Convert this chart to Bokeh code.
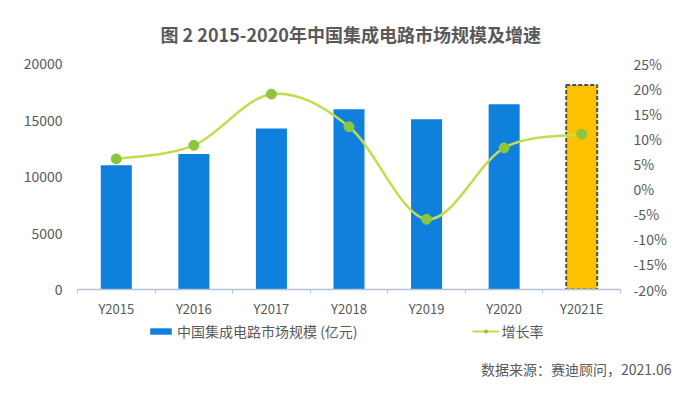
from bokeh.plotting import figure
from bokeh.layouts import column
from bokeh.models import (Range1d, LinearAxis, CategoricalAxis, FixedTicker, ColumnDataSource,
                          Label, Legend, LegendItem, PrintfTickFormatter, FactorRange)
from bokeh.embed import file_html
from bokeh.resources import INLINE

# ---- data ----
years = ["Y2015", "Y2016", "Y2017", "Y2018", "Y2019", "Y2020", "Y2021E"]
market = [11000, 11990, 14250, 15950, 15070, 16390, 18090]   # 亿元
growth = [6.0, 8.7, 18.9, 12.4, -6.0, 8.2, 10.9]              # %
left_ticks = [0, 5000, 10000, 15000, 20000]
right_ticks = [-20, -15, -10, -5, 0, 5, 10, 15, 20, 25]

title_text = "图 2  2015-2020年中国集成电路市场规模及增速"
bar_label = "中国集成电路市场规模 (亿元)"
line_label = "增长率"
source_text = "数据来源：赛迪顾问，2021.06"

FONT = "Noto Sans CJK SC"
TXT = "#595959"
BLUE = "#0F80DC"
GOLD = "#FFC000"
LINE = "#C2DC4E"
DOT = "#8CC63F"
AXIS = "#B4C4D6"


def strip(h):
    s = figure(width=700, height=h, x_range=Range1d(0, 700), y_range=Range1d(0, h),
               output_backend="svg", toolbar_location=None,
               x_axis_location=None, y_axis_location=None, title=None,
               min_border_left=0, min_border_right=0, min_border_top=0, min_border_bottom=0,
               background_fill_color="white", border_fill_color="white",
               outline_line_color=None, frame_align=False)
    s.grid.visible = False
    return s


# ---- title strip ----
t = strip(45)
t.add_layout(Label(x=160, y=12, x_units="screen", y_units="screen", text=title_text,
                   text_align="left", text_baseline="middle", text_font=FONT,
                   text_font_size="18px", text_font_style="bold", text_color=TXT))

# ---- main chart ----
p = figure(width=700, height=275, x_range=FactorRange(*years),
           y_range=Range1d(left_ticks[0], left_ticks[-1]),
           output_backend="svg", toolbar_location=None,
           x_axis_location=None, y_axis_location=None, title=None,
           min_border_left=77, min_border_right=80, min_border_top=18, min_border_bottom=29,
           background_fill_color="white", border_fill_color="white",
           outline_line_color=None, frame_align=False)
p.grid.visible = False
p.extra_y_ranges = {"pct": Range1d(right_ticks[0], right_ticks[-1])}

ly = LinearAxis(ticker=FixedTicker(ticks=left_ticks), axis_line_color=None,
                major_tick_line_color=None, minor_tick_line_color=None,
                major_tick_out=0, major_tick_in=0, major_label_standoff=15,
                major_label_text_font=FONT, major_label_text_font_size="14px",
                major_label_text_color=TXT)
p.add_layout(ly, "left")

ry = LinearAxis(y_range_name="pct", ticker=FixedTicker(ticks=right_ticks),
                formatter=PrintfTickFormatter(format="%d%%"), axis_line_color=None,
                major_tick_line_color=None, minor_tick_line_color=None,
                major_tick_out=0, major_tick_in=0, major_label_standoff=13,
                major_label_text_font=FONT, major_label_text_font_size="14px",
                major_label_text_color=TXT)
p.add_layout(ry, "right")

tx = LinearAxis(ticker=FixedTicker(ticks=list(range(len(years) + 1))),
                axis_line_color=AXIS, axis_line_width=1.5, major_tick_line_color=AXIS,
                minor_tick_line_color=None, major_tick_in=0, major_tick_out=4,
                major_label_text_font_size="0px", major_label_standoff=0)
p.add_layout(tx, "below")
cx = CategoricalAxis(axis_line_color=None, major_tick_line_color=None,
                     major_tick_in=0, major_tick_out=0, major_label_standoff=5,
                     major_label_text_font=FONT, major_label_text_font_size="13px",
                     major_label_text_color=TXT)
p.add_layout(cx, "below")

p.vbar(x=years[:-1], top=market[:-1], width=0.4, fill_color=BLUE, line_color=None)
p.vbar(x=years[-1:], top=market[-1:], width=0.4, fill_color=GOLD,
       line_color="#44546A", line_dash="4 2", line_width=2)

# smoothed growth curve (Excel-style bezier through the points)
xs = [i + 0.5 for i in range(len(years))]
n = len(xs)
bz = dict(x0=[], y0=[], x1=[], y1=[], cx0=[], cy0=[], cx1=[], cy1=[])
for i in range(n - 1):
    im1 = max(i - 1, 0)
    ip2 = min(i + 2, n - 1)
    bz["x0"].append(xs[i]); bz["y0"].append(growth[i])
    bz["x1"].append(xs[i + 1]); bz["y1"].append(growth[i + 1])
    bz["cx0"].append(xs[i] + (xs[i + 1] - xs[im1]) / 6)
    bz["cy0"].append(growth[i] + (growth[i + 1] - growth[im1]) / 6)
    bz["cx1"].append(xs[i + 1] - (xs[ip2] - xs[i]) / 6)
    bz["cy1"].append(growth[i + 1] - (growth[ip2] - growth[i]) / 6)
p.bezier(source=ColumnDataSource(bz), x0="x0", y0="y0", x1="x1", y1="y1",
         cx0="cx0", cy0="cy0", cx1="cx1", cy1="cy1",
         y_range_name="pct", line_color=LINE, line_width=2.5)
p.scatter(x=years, y=growth, y_range_name="pct", size=10, fill_color=DOT, line_color=DOT)

# ---- legend + source strip ----
q = strip(75)
nan = float("nan")
lg_bar = q.vbar(x=[nan], top=[nan], width=1, fill_color=BLUE, line_color=None)
lg_line = q.line(x=[nan, nan], y=[nan, nan], line_color=LINE, line_width=2)
lg_dot = q.scatter(x=[nan], y=[nan], size=6, fill_color=DOT, line_color=DOT)

legend = Legend(items=[LegendItem(label=bar_label, renderers=[lg_bar]),
                       LegendItem(label=line_label, renderers=[lg_line, lg_dot])],
                location=(147, 54), orientation="horizontal", spacing=114,
                padding=0, margin=0, border_line_color=None, background_fill_alpha=0,
                label_text_font=FONT, label_text_font_size="14px", label_text_color=TXT,
                label_standoff=3, glyph_width=27, glyph_height=8, label_height=16)
q.add_layout(legend)

q.add_layout(Label(x=671, y=27, x_units="screen", y_units="screen", text=source_text,
                   text_align="right", text_baseline="middle", text_font=FONT,
                   text_font_size="14px", text_color=TXT))

open("out.html", "w").write(file_html(column(t, p, q, spacing=0), INLINE))
